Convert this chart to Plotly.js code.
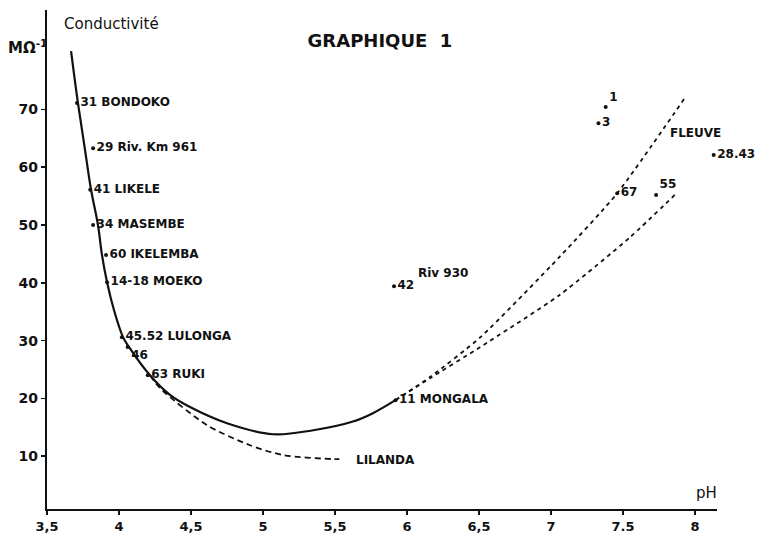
<!DOCTYPE html>
<html>
<head>
<meta charset="utf-8">
<script src="https://cdn.plot.ly/plotly-3.0.1.min.js"></script>
<style>html,body{margin:0;padding:0;background:#fff;}#chart{width:765px;height:538px;}</style>
</head>
<body>
<div id="chart"></div>
<script>
// Main solid curve (pH, conductivity)
const curvePH   = [3.667, 3.715, 3.764, 3.806, 3.854, 3.882, 3.917, 3.965, 4.028, 4.069, 4.215, 4.354, 4.493, 4.75, 5.07, 5.35, 5.625, 5.76, 5.92];
const curveCond = [80.1, 71.1, 63.0, 56.1, 50.0, 44.8, 40.1, 35.3, 30.6, 28.9, 24.0, 20.6, 18.5, 15.7, 13.8, 14.5, 16.0, 17.4, 19.7];

// LILANDA dashed branch
const lilPH   = [4.215, 4.285, 4.61, 4.91, 5.14, 5.49, 5.53];
const lilCond = [24.0, 21.8, 15.4, 11.9, 10.2, 9.5, 9.5];

// FLEUVE dashed branches
const fleuveUpPH   = [5.92, 6.16, 6.51, 7.06, 7.46, 7.93];
const fleuveUpCond = [19.7, 23.7, 30.6, 44.5, 55.5, 72.0];
const fleuveLoPH   = [5.92, 6.16, 6.51, 7.06, 7.55, 7.88];
const fleuveLoCond = [19.7, 23.5, 28.9, 37.9, 47.9, 55.7];

// Sampling stations
const stationPH    = [3.708, 3.82, 3.80, 3.82, 3.91, 3.917, 4.02, 4.06, 4.20, 5.91, 5.92, 7.38, 7.33, 7.46, 7.73, 8.13];
const stationCond  = [71.1, 63.3, 56.1, 50.0, 44.8, 40.1, 30.6, 28.9, 24.0, 39.4, 19.7, 70.4, 67.6, 55.5, 55.2, 62.1];
const stationLabel = ["31 BONDOKO", "29 Riv. Km 961", "41 LIKELE", "34 MASEMBE", "60 IKELEMBA", "14-18 MOEKO",
                      "45.52 LULONGA", "46", "63 RUKI", "42", "11 MONGALA", "1", "3", "67", "55", "28.43"];
const riv930Note = "Riv 930";

// Axis ticks
const xTickVals = [3.5, 4, 4.5, 5, 5.5, 6, 6.5, 7, 7.5, 8];
const xTickText = ["3,5", "4", "4,5", "5", "5,5", "6", "6,5", "7", "7.5", "8"];
const yTickVals = [10, 20, 30, 40, 50, 60, 70];
const yTickText = ["10", "20", "30", "40", "50", "60", "70"];

const labelPos = stationLabel.map(l => (l === "1" || l === "55") ? "top right" : (l === "46" ? "bottom right" : "middle right"));
const F = "DejaVu Sans, sans-serif";

const traces = [
  {x: curvePH, y: curveCond, mode: "lines", line: {color: "#111", width: 2.2, shape: "spline", smoothing: 1}},
  {x: lilPH, y: lilCond, mode: "lines", line: {color: "#111", width: 1.8, dash: "6px,4px", shape: "spline", smoothing: 0.8}},
  {x: fleuveUpPH, y: fleuveUpCond, mode: "lines", line: {color: "#111", width: 1.8, dash: "4px,4px", shape: "spline", smoothing: 0.6}},
  {x: fleuveLoPH, y: fleuveLoCond, mode: "lines", line: {color: "#111", width: 1.8, dash: "4px,4px", shape: "spline", smoothing: 0.6}},
  {x: stationPH, y: stationCond, mode: "markers+text", cliponaxis: false, marker: {color: "#111", size: 4},
   text: stationLabel, textposition: labelPos, textfont: {family: F, size: 12, color: "#111", weight: "bold"}}
];

const layout = {
  width: 765, height: 538,
  margin: {l: 47, r: 48, t: 10, b: 29},
  paper_bgcolor: "#fff", plot_bgcolor: "#fff",
  showlegend: false,
  font: {family: F, color: "#111"},
  title: {text: "GRAPHIQUE&nbsp;&nbsp;1", x: 380/765, xanchor: "center", y: 1 - 41/538, yanchor: "middle",
          font: {family: F, size: 18, color: "#111", weight: "bold"}},
  xaxis: {range: [3.5, 8.153], showgrid: false, zeroline: false, showline: true, linecolor: "#111", linewidth: 2.2,
          ticks: "outside", ticklen: 4, tickwidth: 1.5, tickcolor: "#111",
          tickvals: xTickVals, ticktext: xTickText, tickfont: {family: F, size: 13, color: "#111", weight: "bold"}},
  yaxis: {range: [0.87, 87.2], showgrid: false, zeroline: false, showline: true, linecolor: "#111", linewidth: 2.2,
          ticks: "outside", ticklen: 4, tickwidth: 1.5, tickcolor: "#111",
          tickvals: yTickVals, ticktext: yTickText, tickfont: {family: F, size: 14, color: "#111", weight: "bold"}},
  annotations: [
    {xref: "paper", yref: "paper", x: 17/765, y: 1 - 15/538, xanchor: "left", yanchor: "middle", showarrow: false,
     text: "Conductivité", font: {family: F, size: 15, color: "#111"}},
    {xref: "x", yref: "paper", x: 3.5, xshift: -41, y: 1 - 40/538, xanchor: "left", yanchor: "middle", showarrow: false,
     text: "MΩ<sup>-1</sup>", font: {family: F, size: 15, color: "#111", weight: "bold"}},
    {xref: "x", yref: "paper", x: 8.08, y: 0, yshift: 5, xanchor: "center", yanchor: "bottom", showarrow: false,
     text: "pH", font: {family: F, size: 15, color: "#111"}},
    {xref: "x", yref: "y", x: 6.06, y: 41.7, xanchor: "left", yanchor: "middle", showarrow: false,
     text: riv930Note, font: {family: F, size: 12, color: "#111", weight: "bold"}},
    {xref: "x", yref: "y", x: 7.81, y: 65.9, xanchor: "left", yanchor: "middle", showarrow: false,
     text: "FLEUVE", font: {family: F, size: 12, color: "#111", weight: "bold"}},
    {xref: "x", yref: "y", x: 5.63, y: 9.3, xanchor: "left", yanchor: "middle", showarrow: false,
     text: "LILANDA", font: {family: F, size: 12, color: "#111", weight: "bold"}}
  ]
};

Plotly.newPlot("chart", traces, layout, {displayModeBar: false, staticPlot: true});
</script>
</body>
</html>
